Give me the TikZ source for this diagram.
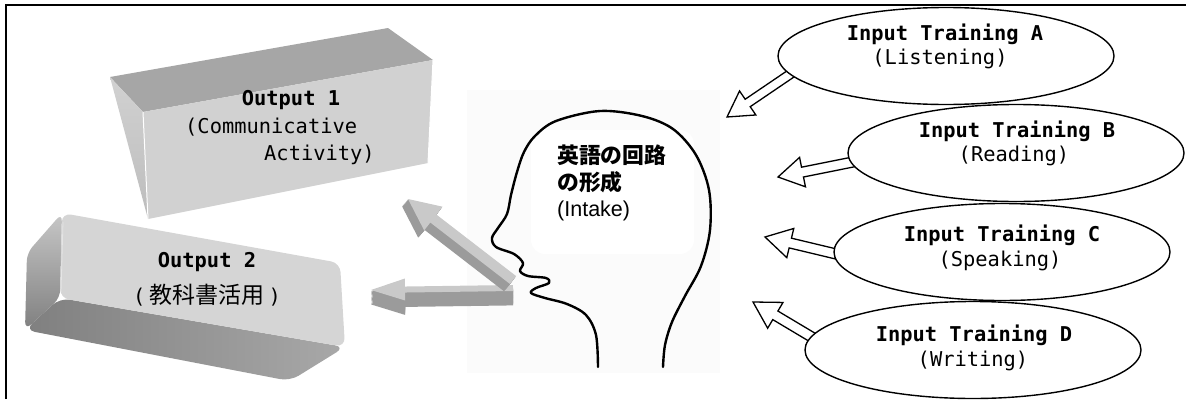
\documentclass[tikz,border=0pt]{standalone}
\usepackage{fontspec}
\newfontfamily\monofam{DejaVu Sans Mono}
\newfontfamily\jpfam{Noto Sans CJK JP}
\newfontfamily\sansfam{Liberation Sans}
\usetikzlibrary{shapes.geometric,calc,backgrounds}

% corner points q1..q7 of a block arrow from #1 (tail) to #2 (tip)
% #3 shaft half width, #4 head half width, #5 head length
\newcommand\arrowpts[5]{%
  \coordinate (qb) at ($(#2)!#5!(#1)$);
  \coordinate (q1) at ($(#1)!#3!90:(#2)$);
  \coordinate (q2) at ($(qb)!#3!90:(#2)$);
  \coordinate (q3) at ($(qb)!#4!90:(#2)$);
  \coordinate (q4) at (#2);
  \coordinate (q5) at ($(qb)!#4!-90:(#2)$);
  \coordinate (q6) at ($(qb)!#3!-90:(#2)$);
  \coordinate (q7) at ($(#1)!#3!-90:(#2)$);
}
\newcommand\arrowoutline[1]{($(q1)+#1$) -- ($(q2)+#1$) -- ($(q3)+#1$) -- ($(q4)+#1$) -- ($(q5)+#1$) -- ($(q6)+#1$) -- ($(q7)+#1$) -- cycle}

% white block arrow with black outline
\newcommand\openarrow[5]{%
  \arrowpts{#1}{#2}{#3}{#4}{#5}
  \draw[hollow] \arrowoutline{(0,0)};
}

% grey extruded block arrow: #6,#7 step of the extrusion, #8 top colour, #9 side colour
\newcommand\solidarrow[9]{%
  \arrowpts{#1}{#2}{#3}{#4}{#5}
  \foreach \k in {12,11,...,1}{\fill[#9] \arrowoutline{(\k*#6,\k*#7)};}
  \fill[#8] \arrowoutline{(0,0)};
}

\definecolor{topgrey}{HTML}{A6A6A6}
\definecolor{frontgrey}{HTML}{D1D1D1}
\definecolor{front2}{HTML}{D5D5D5}
\definecolor{arrlight}{HTML}{C9C9C9}
\definecolor{arrdark}{HTML}{9B9B9B}

\begin{document}
\begin{tikzpicture}[x=1pt,y=-1pt,
  inbubble/.style={ellipse,draw=black,line width=1.4pt,fill=white,
    minimum width=336pt,minimum height=97pt,inner sep=0pt},
  hollow/.style={draw=black,fill=white,line width=1.3pt,line join=miter},
  ttl/.style={font=\monofam\bfseries\fontsize{20.4}{24}\selectfont,inner sep=0pt,anchor=base},
  sub/.style={font=\monofam\fontsize{20.4}{24}\selectfont,inner sep=0pt,anchor=base},
  jpt/.style={font=\jpfam\bfseries\fontsize{21.8}{26}\selectfont,inner sep=0pt,anchor=base west},
]
\useasboundingbox (0,0) rectangle (1186,399);

% frame
\draw[line width=2pt] (6,399) -- (6,5) -- (1186,5);

% ---- Output 1: rectangular block ----
\fill[topgrey] (110,77) -- (388,28) -- (433,60) -- (143,112) -- cycle;
\shade[top color=black!18,bottom color=black!26] (110,77) -- (143,112) -- (148,219) -- cycle;
\fill[frontgrey] (143,112) -- (433,60) -- (428,163) -- (148,219) -- cycle;
\draw[white,line width=1pt] (143,112) -- (148,219);
\draw[white,line width=1pt] (433,60) -- (428,163);
\node[ttl] (o1) at (291,105) {Output 1};
\node[sub,anchor=base west] (o1a) at (185,133) {(Communicative};
\node[sub,anchor=base west] (o1b) at (264,160) {Activity)};

% ---- Output 2: bevelled block ----
\shade[left color=black!50,right color=black!34,rounded corners=10pt]
  (60,298) -- (345,347) -- (290,381) -- (25,330) -- cycle;
\shade[shading angle=35,top color=black!22,bottom color=black!50,rounded corners=8pt]
  (62,213) -- (60,298) -- (25,330) -- (27,253) -- cycle;
\fill[front2,rounded corners=9pt] (62,213) -- (340,263) -- (345,347) -- (60,298) -- cycle;
\draw[white!90!black,line width=0.8pt] (63,222) -- (61,292);
\node[ttl] (o2) at (207,267) {Output 2};
\node[sub] (o2a) at (207,303) {(\hspace{4pt}{\jpfam\fontsize{23}{24}\selectfont 教科書活用}\hspace{4pt})};

% ---- head ----
\fill[black!1.5] (467,90) rectangle (720,373);
\fill[white,rounded corners=14pt] (531,130) rectangle (694,254);
\draw[line width=2.4pt,line join=round,line cap=round]
  plot[smooth,tension=0.55] coordinates {
  (598,367) (596,335) (586,315) (567,304) (545,298) (531,293) (536,288)
  (549,283) (546,278) (528,276) (520,271) (523,263) (514,254) (496,247)
  (492,238) (498,228) (507,214) (511,195) (517,172) (524,152) (535,136)
  (556,121) (600,111) (642,116) (673,129) (696,155) (709,190) (710,230)
  (701,266) (685,296) (672,322) (665,345) (663,367)};
\node[jpt] (h1) at (557,163) {英語の回路};
\node[jpt] (h2) at (557,190) {の形成};
\node[jpt,font=\sansfam\fontsize{21.5}{26}\selectfont] (h3) at (557,216) {(Intake)};

% ---- output arrows from the mouth ----
\coordinate (mouthL) at (513,288);
\coordinate (toOut2) at (371,290);
\coordinate (mouthD) at (513,280);
\coordinate (toOut1) at (408,199);
\solidarrow{mouthL}{toOut2}{3pt}{11pt}{34pt}{0}{1.2}{arrlight}{arrdark}
\solidarrow{mouthD}{toOut1}{5pt}{15pt}{32pt}{-0.5}{0.6}{arrlight}{arrdark}

% ---- input ellipses ----
\node[inbubble] (A) at (946,56) {};
\node[inbubble] (B) at (1016,153) {};
\node[inbubble] (C) at (1002,252) {};
\node[inbubble] (D) at (973,350) {};

\node[ttl] (At) at (945,40) {Input Training A};
\node[sub] (As) at (940,64) {(Listening)};
\node[ttl] (Bt) at (1017,137) {Input Training B};
\node[sub] (Bs) at (1014,161) {(Reading)};
\node[ttl] (Ct) at (1002,241) {Input Training C};
\node[sub] (Cs) at (1000,266) {(Speaking)};
\node[ttl] (Dt) at (974,341) {Input Training D};
\node[sub] (Ds) at (973,366) {(Writing)};

% ---- input arrows toward the head ----
\coordinate (tA) at (727,117);
\coordinate (tB) at (778,177);
\coordinate (tC) at (765,237);
\coordinate (tD) at (753,302);
\begin{scope}[on background layer]
  \openarrow{$(A.186)!6pt!(A.center)$}{tA}{4.5pt}{14.5pt}{25pt}
  \openarrow{$(B.183)!6pt!(B.center)$}{tB}{5pt}{15pt}{25pt}
  \openarrow{$(C.181)!6pt!(C.center)$}{tC}{5pt}{15pt}{26pt}
  \openarrow{$(D.176)!6pt!(D.center)$}{tD}{5pt}{15pt}{26pt}
\end{scope}
\end{tikzpicture}
\end{document}
